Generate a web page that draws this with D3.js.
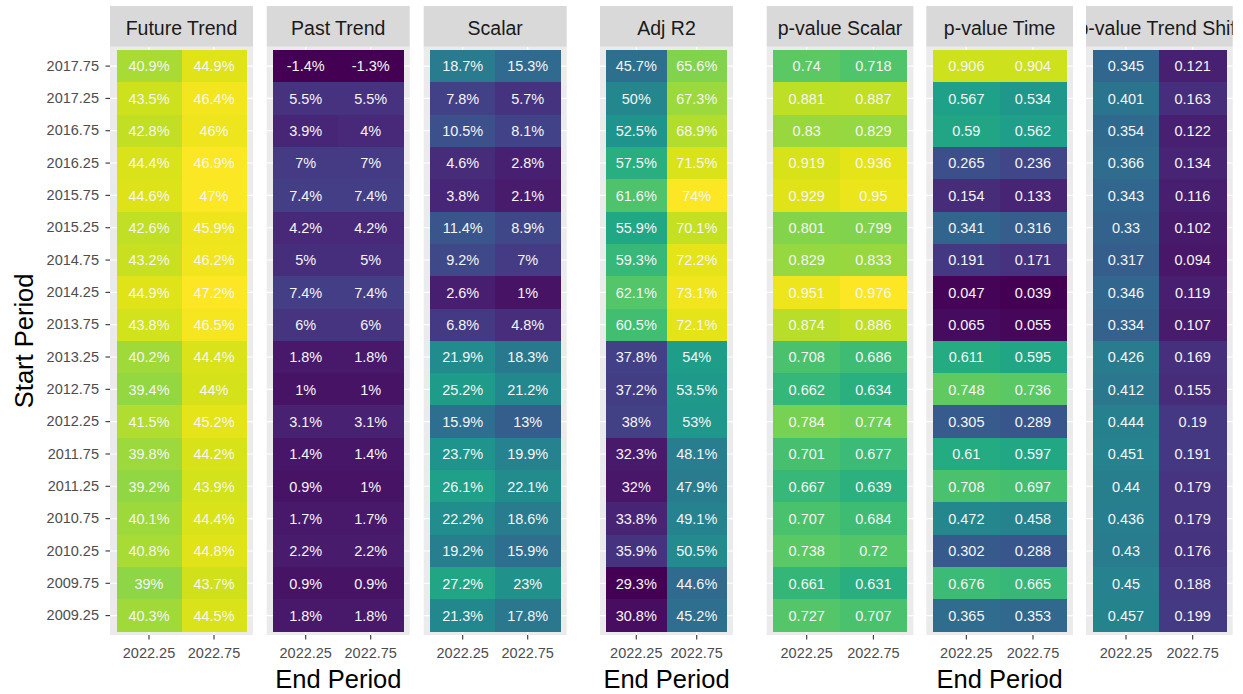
<!DOCTYPE html>
<html lang="en">
<head>
<meta charset="UTF-8">
<title>Trend heatmaps</title>
<script src="https://d3js.org/d3.v7.min.js"></script>
<style>
  body { margin: 0; background: #fff; }
  svg text { font-family: "Liberation Sans", Arial, sans-serif; }
</style>
</head>
<body>
<svg id="chart" width="1243" height="694"></svg>
<script>
// rows top to bottom
const startPeriods = ["2017.75","2017.25","2016.75","2016.25","2015.75","2015.25","2014.75","2014.25","2013.75",
  "2013.25","2012.75","2012.25","2011.75","2011.25","2010.75","2010.25","2009.75","2009.25"];
const endPeriods = ["2022.25", "2022.75"];

// each row: [2022.25, 2022.75]
const futureTrend = [[40.9,44.9],[43.5,46.4],[42.8,46],[44.4,46.9],[44.6,47],[42.6,45.9],[43.2,46.2],[44.9,47.2],[43.8,46.5],
  [40.2,44.4],[39.4,44],[41.5,45.2],[39.8,44.2],[39.2,43.9],[40.1,44.4],[40.8,44.8],[39,43.7],[40.3,44.5]];
const pastTrend = [[-1.4,-1.3],[5.5,5.5],[3.9,4],[7,7],[7.4,7.4],[4.2,4.2],[5,5],[7.4,7.4],[6,6],
  [1.8,1.8],[1,1],[3.1,3.1],[1.4,1.4],[0.9,1],[1.7,1.7],[2.2,2.2],[0.9,0.9],[1.8,1.8]];
const scalar = [[18.7,15.3],[7.8,5.7],[10.5,8.1],[4.6,2.8],[3.8,2.1],[11.4,8.9],[9.2,7],[2.6,1],[6.8,4.8],
  [21.9,18.3],[25.2,21.2],[15.9,13],[23.7,19.9],[26.1,22.1],[22.2,18.6],[19.2,15.9],[27.2,23],[21.3,17.8]];
const adjR2 = [[45.7,65.6],[50,67.3],[52.5,68.9],[57.5,71.5],[61.6,74],[55.9,70.1],[59.3,72.2],[62.1,73.1],[60.5,72.1],
  [37.8,54],[37.2,53.5],[38,53],[32.3,48.1],[32,47.9],[33.8,49.1],[35.9,50.5],[29.3,44.6],[30.8,45.2]];
const pScalar = [[0.74,0.718],[0.881,0.887],[0.83,0.829],[0.919,0.936],[0.929,0.95],[0.801,0.799],[0.829,0.833],[0.951,0.976],[0.874,0.886],
  [0.708,0.686],[0.662,0.634],[0.784,0.774],[0.701,0.677],[0.667,0.639],[0.707,0.684],[0.738,0.72],[0.661,0.631],[0.727,0.707]];
const pTime = [[0.906,0.904],[0.567,0.534],[0.59,0.562],[0.265,0.236],[0.154,0.133],[0.341,0.316],[0.191,0.171],[0.047,0.039],[0.065,0.055],
  [0.611,0.595],[0.748,0.736],[0.305,0.289],[0.61,0.597],[0.708,0.697],[0.472,0.458],[0.302,0.288],[0.676,0.665],[0.365,0.353]];
const pTrendShift = [[0.345,0.121],[0.401,0.163],[0.354,0.122],[0.366,0.134],[0.343,0.116],[0.33,0.102],[0.317,0.094],[0.346,0.119],[0.334,0.107],
  [0.426,0.169],[0.412,0.155],[0.444,0.19],[0.451,0.191],[0.44,0.179],[0.436,0.179],[0.43,0.176],[0.45,0.188],[0.457,0.199]];

// three plots side by side, each sharing one fill scale
const plots = [
  { panels: [
      { title: "Future Trend", values: futureTrend, x0: 110 },
      { title: "Past Trend", values: pastTrend, x0: 266.7 },
      { title: "Scalar", values: scalar, x0: 423.7 }
    ], width: 143, pct: true },
  { panels: [
      { title: "Adj R2", values: adjR2, x0: 600 }
    ], width: 133, pct: true },
  { panels: [
      { title: "p-value Scalar", values: pScalar, x0: 766.7 },
      { title: "p-value Time", values: pTime, x0: 926.3 },
      { title: "p-value Trend Shift", values: pTrendShift, x0: 1086 }
    ], width: 146.7, pct: false }
];

const svg = d3.select("#chart");
const stripTop = 6, panelTop = 46.7, panelBottom = 635;

const y = d3.scaleBand()
  .domain(startPeriods)
  .range([panelTop, panelBottom])
  .paddingInner(0)
  .paddingOuter(0.1);

plots.forEach((plot, pi) => {
  const all = plot.panels.flatMap(p => p.values.flat());
  const color = d3.scaleSequential(d3.interpolateViridis).domain(d3.extent(all));

  plot.panels.forEach((panel, k) => {
    const x0 = panel.x0, x1 = panel.x0 + plot.width;
    const x = d3.scaleBand().domain(endPeriods).range([x0, x1]).paddingInner(0).paddingOuter(0.1);
    const g = svg.append("g");

    // panel background + grid
    g.append("rect").attr("x", x0).attr("y", panelTop)
      .attr("width", x1 - x0).attr("height", panelBottom - panelTop).attr("fill", "#EBEBEB");
    g.selectAll(".gx").data(endPeriods).enter().append("line")
      .attr("x1", d => x(d) + x.bandwidth() / 2).attr("x2", d => x(d) + x.bandwidth() / 2)
      .attr("y1", panelTop).attr("y2", panelBottom)
      .attr("stroke", "#fff").attr("stroke-width", 1.1);
    g.selectAll(".gy").data(startPeriods).enter().append("line")
      .attr("y1", d => y(d) + y.bandwidth() / 2).attr("y2", d => y(d) + y.bandwidth() / 2)
      .attr("x1", x0).attr("x2", x1)
      .attr("stroke", "#fff").attr("stroke-width", 1.1);

    // tiles
    const cells = [];
    panel.values.forEach((row, ri) => row.forEach((v, ci) => cells.push({ s: startPeriods[ri], e: endPeriods[ci], v })));
    g.selectAll(".tile").data(cells).enter().append("rect")
      .attr("x", d => x(d.e)).attr("y", d => y(d.s))
      .attr("width", x.bandwidth() + 0.5).attr("height", y.bandwidth() + 0.5)
      .attr("shape-rendering", "crispEdges")
      .attr("fill", d => color(d.v));
    g.selectAll(".lab").data(cells).enter().append("text")
      .attr("x", d => x(d.e) + x.bandwidth() / 2)
      .attr("y", d => y(d.s) + y.bandwidth() / 2)
      .attr("dy", "0.36em")
      .attr("text-anchor", "middle")
      .attr("font-size", "14.5px")
      .attr("fill", "#F5F5F5")
      .text(d => plot.pct ? d.v + "%" : String(d.v));

    // strip
    const clipId = `clip-${pi}-${k}`;
    svg.append("clipPath").attr("id", clipId).append("rect")
      .attr("x", x0).attr("y", stripTop).attr("width", x1 - x0).attr("height", panelTop - stripTop);
    g.append("rect").attr("x", x0).attr("y", stripTop)
      .attr("width", x1 - x0).attr("height", panelTop - stripTop).attr("fill", "#D9D9D9");
    g.append("text").attr("clip-path", `url(#${clipId})`)
      .attr("x", (x0 + x1) / 2).attr("y", 34.5)
      .attr("text-anchor", "middle").attr("font-size", "19.5px").attr("fill", "#1A1A1A")
      .text(panel.title);

    // x axis
    const xa = g.append("g").attr("transform", `translate(0,${panelBottom})`)
      .call(d3.axisBottom(x).tickSize(4.5).tickPadding(8.5));
    xa.select(".domain").remove();
    xa.selectAll("line").attr("stroke", "#333").attr("stroke-width", 1.1);
    xa.selectAll("text").attr("font-size", "14.5px").attr("fill", "#4D4D4D")
      .attr("font-family", "Liberation Sans, Arial, sans-serif");
  });

  // x title centred under plot
  const first = plot.panels[0].x0;
  const last = plot.panels[plot.panels.length - 1].x0 + plot.width;
  svg.append("text").attr("x", (first + last) / 2).attr("y", 688)
    .attr("text-anchor", "middle").attr("font-size", "25.5px").attr("fill", "#000")
    .text("End Period");
});

// y axis on first plot only
const ya = svg.append("g").attr("transform", "translate(110,0)")
  .call(d3.axisLeft(y).tickSize(4.5).tickPadding(6.5));
ya.select(".domain").remove();
ya.selectAll("line").attr("stroke", "#333").attr("stroke-width", 1.1);
ya.selectAll("text").attr("font-size", "14.5px").attr("fill", "#4D4D4D")
  .attr("font-family", "Liberation Sans, Arial, sans-serif");

svg.append("text")
  .attr("transform", `translate(33,${(panelTop + panelBottom) / 2}) rotate(-90)`)
  .attr("text-anchor", "middle").attr("font-size", "25.5px").attr("fill", "#000")
  .text("Start Period");
</script>
</body>
</html>
